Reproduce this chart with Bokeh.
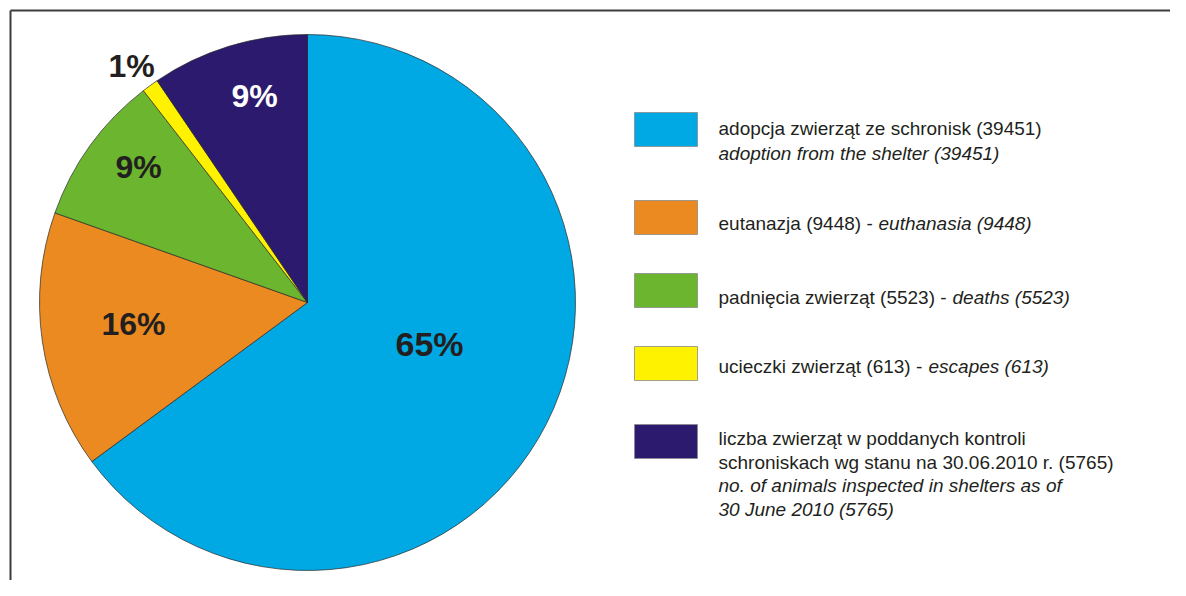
import math
from bokeh.plotting import figure
from bokeh.models import Range1d, ColumnDataSource
from bokeh.core.properties import value
from bokeh.embed import file_html
from bokeh.resources import INLINE

# ---- data ----
categories = ["adopcja", "eutanazja", "padnięcia", "ucieczki", "liczba zwierząt"]
counts = [39451, 9448, 5523, 613, 5765]
pct_labels = ["65%", "16%", "9%", "1%", "9%"]
colors = ["#00A9E4", "#EA8A20", "#6BB52F", "#FFF200", "#2B1A6E"]

legend_normal = [
    ["adopcja zwierząt ze schronisk (39451)"],
    ["eutanazja (9448) - "],
    ["padnięcia zwierząt (5523) - "],
    ["ucieczki zwierząt (613) - "],
    ["liczba zwierząt w poddanych kontroli", "schroniskach wg stanu na 30.06.2010 r. (5765)"],
]
legend_italic = [
    ["adoption from the shelter (39451)"],
    ["euthanasia (9448)"],
    ["deaths (5523)"],
    ["escapes (613)"],
    ["no. of animals inspected in shelters as of", "30 June 2010 (5765)"],
]

# ---- layout (image pixel coords) ----
W, H = 1170, 580
OFF = 0
def X(px): return px - OFF
def Y(py): return (H + OFF) - py

cx, cy, R = 307, 302, 268
label_pos = [(429, 343), (133, 323), (138, 166), (131, 65), (254, 95)]
label_colors = ["#231F20", "#231F20", "#231F20", "#231F20", "#FFFFFF"]
label_sizes = ["34px", "32px", "32px", "32px", "32px"]

sw_x0, sw_x1 = 634, 697
sw_tops = [112, 200, 273, 346, 424]
sw_h = 34
text_x = 718
item_baselines = [
    [128, 153],
    [223],
    [297],
    [366],
    [438, 461.5, 485, 508.5],
]
italic_inline_x = [None, 878, 952, 928, None]

p = figure(width=W, height=H, output_backend="svg", toolbar_location=None,
           x_range=Range1d(0, W), y_range=Range1d(0, H), min_border=0)
p.axis.visible = False
p.grid.visible = False
p.outline_line_color = None
p.background_fill_color = "white"
p.border_fill_color = "white"

# frame (top & left lines)
p.segment(x0=[X(10), X(10)], y0=[Y(10), Y(10)], x1=[X(10), W], y1=[0, Y(10)],
          line_color="#3c3c3c", line_width=2)

# pie wedges
total = float(sum(counts))
starts, ends = [], []
cum = 0.0
for c in counts:
    starts.append(math.pi / 2 - 2 * math.pi * cum / total)
    cum += c
    ends.append(math.pi / 2 - 2 * math.pi * cum / total)
src = ColumnDataSource(dict(start=starts, end=ends, color=colors))
p.wedge(x=X(cx), y=Y(cy), radius=R, start_angle="start", end_angle="end",
        direction="clock", fill_color="color", line_color="#2a2a2a",
        line_width=0.7, source=src)

# percentage labels
for (lx, ly), t, col, sz in zip(label_pos, pct_labels, label_colors, label_sizes):
    p.text(x=[X(lx)], y=[Y(ly)], text=[t], text_color=col,
           text_font=value("Liberation Sans"), text_font_style="bold",
           text_font_size=sz, text_align="center", text_baseline="middle")

# legend
for i in range(len(categories)):
    p.quad(left=X(sw_x0), right=X(sw_x1), top=Y(sw_tops[i]), bottom=Y(sw_tops[i] + sw_h),
           fill_color=colors[i], line_color="#8a8a8a", line_width=0.8)
    bl = item_baselines[i]
    k = 0
    for line in legend_normal[i]:
        p.text(x=[X(text_x)], y=[Y(bl[k])], text=[line], text_color="#231F20",
               text_font=value("Liberation Sans"), text_font_size="19px",
               text_align="left", text_baseline="alphabetic")
        k += 1
    if italic_inline_x[i] is not None:
        p.text(x=[X(italic_inline_x[i])], y=[Y(bl[0])], text=[legend_italic[i][0]],
               text_color="#231F20", text_font=value("Liberation Sans"),
               text_font_style="italic", text_font_size="19px",
               text_align="left", text_baseline="alphabetic")
    else:
        for line in legend_italic[i]:
            p.text(x=[X(text_x)], y=[Y(bl[k])], text=[line], text_color="#231F20",
                   text_font=value("Liberation Sans"), text_font_style="italic",
                   text_font_size="19px", text_align="left", text_baseline="alphabetic")
            k += 1

open("out.html", "w").write(file_html(p, INLINE))
